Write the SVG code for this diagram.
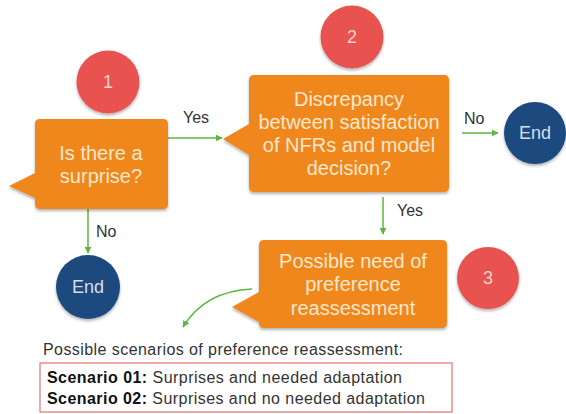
<svg xmlns="http://www.w3.org/2000/svg" width="566" height="414" viewBox="0 0 566 414">
<defs>
<style>
.box{fill:#F0871E;filter:url(#sh)}
.red{fill:#E9534F;filter:url(#sh)}
.blue{fill:#1B4A7E;filter:url(#sh)}
.bt{font-family:"Liberation Sans",Arial,sans-serif;font-size:20px;fill:#FDE7CC;text-anchor:middle}
.num{font-family:"Liberation Sans",Arial,sans-serif;font-size:18px;fill:#FAD2D0;text-anchor:middle}
.end{font-family:"Liberation Sans",Arial,sans-serif;font-size:18px;fill:#D6DEEA;text-anchor:middle}
.lbl{font-family:"Liberation Sans",Arial,sans-serif;font-size:16px;fill:#333}
.edge{stroke:#5DB73E;stroke-width:1.5;fill:none}
.bot{font-family:"Liberation Sans",Arial,sans-serif;font-size:16px;fill:#333}
</style>
<filter id="sh" x="-20%" y="-20%" width="140%" height="150%">
<feDropShadow dx="0" dy="2" stdDeviation="1.5" flood-color="#000" flood-opacity="0.3"/>
</filter>
<marker id="ah" viewBox="0 0 10 10" refX="9" refY="5" markerWidth="7" markerHeight="7" orient="auto" markerUnits="userSpaceOnUse">
<path d="M0,0 L10,5 L0,10 z" fill="#5DB73E"/>
</marker>
</defs>

<g id="connectors">
<line class="edge" x1="168" y1="138" x2="222" y2="138" marker-end="url(#ah)"/>
<line class="edge" x1="88" y1="209" x2="88" y2="253" marker-end="url(#ah)"/>
<line class="edge" x1="462" y1="133" x2="498" y2="133" marker-end="url(#ah)"/>
<line class="edge" x1="383" y1="197" x2="383" y2="234" marker-end="url(#ah)"/>
<path class="edge" d="M252,289 Q205,291 183,327" marker-end="url(#ah)"/>
<text class="lbl" x="183" y="123">Yes</text>
<text class="lbl" x="96" y="237">No</text>
<text class="lbl" x="464" y="124">No</text>
<text class="lbl" x="397" y="216">Yes</text>
</g>

<g id="n1">
<path class="box" d="M40,119 H163 Q168,119 168,124 V204 Q168,209 163,209 H40 Q35,209 35,204 V198 L9,186 L35,173 V124 Q35,119 40,119 Z"/>
<text class="bt" x="101" y="160">Is there a</text>
<text class="bt" x="101" y="183">surprise?</text>
</g>
<g id="c1">
<circle class="red" cx="108" cy="82" r="31.5"/>
<text class="num" x="108" y="88">1</text>
</g>

<g id="n2">
<path class="box" d="M254,75 H444 Q449,75 449,80 V187 Q449,192 444,192 H254 Q249,192 249,187 V155 L223,139 L249,124 V80 Q249,75 254,75 Z"/>
<text class="bt" x="349" y="106">Discrepancy</text>
<text class="bt" x="349" y="129">between satisfaction</text>
<text class="bt" x="349" y="152">of NFRs and model</text>
<text class="bt" x="349" y="175">decision?</text>
</g>
<g id="c2">
<circle class="red" cx="352" cy="37" r="31.5"/>
<text class="num" x="352" y="43">2</text>
</g>

<g id="end2">
<circle class="blue" cx="535" cy="133" r="31"/>
<text class="end" x="535" y="139">End</text>
</g>

<g id="end1">
<circle class="blue" cx="88" cy="287" r="32"/>
<text class="end" x="88" y="293">End</text>
</g>

<g id="n3">
<path class="box" d="M264,240 H442 Q447,240 447,245 V323 Q447,328 442,328 H264 Q259,328 259,323 V322 L232,307 L259,292 V245 Q259,240 264,240 Z"/>
<text class="bt" x="353" y="268">Possible need of</text>
<text class="bt" x="353" y="291">preference</text>
<text class="bt" x="353" y="315">reassessment</text>
</g>
<g id="c3">
<circle class="red" cx="488" cy="278" r="31"/>
<text class="num" x="488" y="284">3</text>
</g>

<g id="scenarios">
<text class="bot" x="43" y="355" textLength="360" lengthAdjust="spacing">Possible scenarios of preference reassessment:</text>
<rect x="40" y="363" width="412" height="49" fill="none" stroke="#E8716E" stroke-width="1.2"/>
<text class="bot" x="47" y="383" fill="#222" textLength="355" lengthAdjust="spacing"><tspan font-weight="bold" fill="#111">Scenario 01:</tspan> Surprises and needed adaptation</text>
<text class="bot" x="47" y="404" fill="#222" textLength="378" lengthAdjust="spacing"><tspan font-weight="bold" fill="#111">Scenario 02:</tspan> Surprises and no needed adaptation</text>
</g>
</svg>
